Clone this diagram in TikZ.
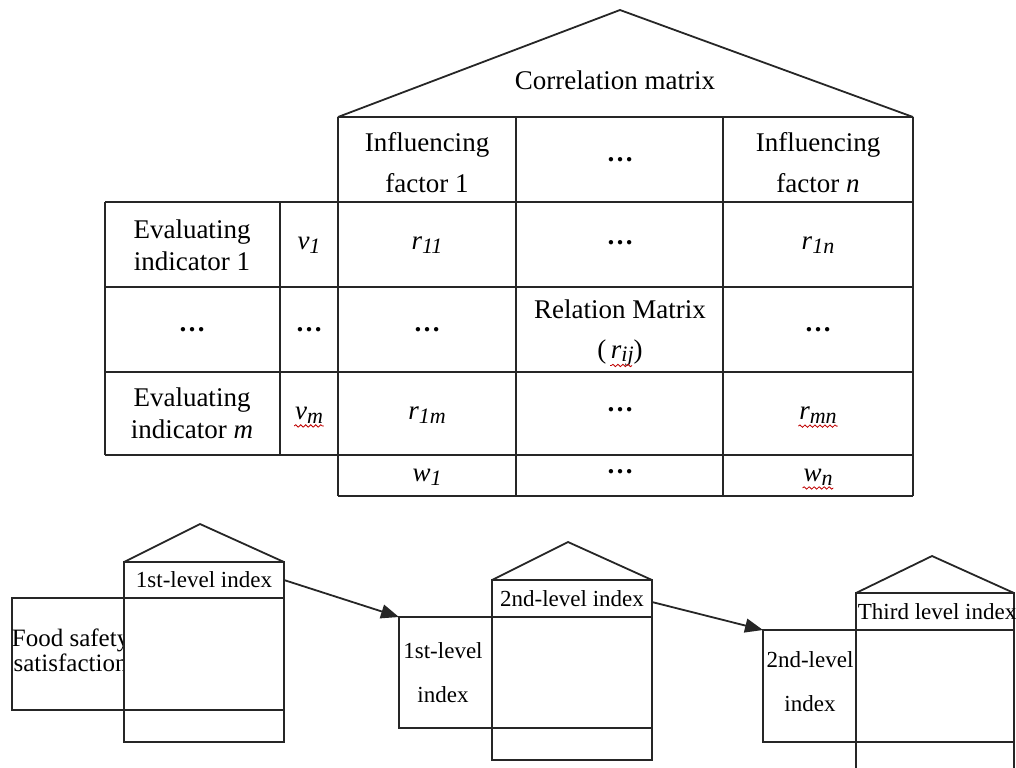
\documentclass[tikz,border=0pt]{standalone}
\usepackage{fontspec}
\setmainfont{Liberation Serif}
\usetikzlibrary{arrows.meta,decorations.pathmorphing}
\newcommand{\isub}[2]{\textit{#1}\raisebox{-0.3ex}{\fontsize{11}{11}\selectfont\textit{#2}}}
\newcommand{\dotsmark}{\textbf{…}}
\begin{document}
\begin{tikzpicture}[x=0.5pt,y=-0.5pt,line width=0.9pt,color=black!85,
	toptext/.style={font=\fontsize{13.5}{15}\selectfont,align=center,inner sep=0pt,text=black},
	lowtext/.style={font=\fontsize{11.5}{12}\selectfont,align=center,inner sep=0pt,text=black},
	foodtext/.style={font=\fontsize{12.5}{7.8}\selectfont,align=center,inner sep=0pt,text=black,anchor=west},
	spell/.style={draw=red!75!black,line width=0.4pt,decorate,decoration={snake,amplitude=0.6pt,segment length=2.5pt}},
	arr/.style={-{Triangle[length=9pt,width=7pt]}}]
				\useasboundingbox (0,0) rectangle (1016,767);
				\draw (338,117) -- (620,10) -- (913,117);
				\draw (338,117) -- (913,117);
				\draw (105,202) -- (913,202);
				\draw (105,287) -- (913,287);
				\draw (105,372) -- (913,372);
				\draw (105,455) -- (913,455);
				\draw (338,496) -- (913,496);
				\draw (105,202) -- (105,455);
				\draw (280,202) -- (280,455);
				\draw (338,117) -- (338,496);
				\draw (516,117) -- (516,496);
				\draw (723,117) -- (723,496);
				\draw (913,117) -- (913,496);
				\node[toptext] (corr) at (615,80) {Correlation matrix};
				\node[toptext] (inf1) at (427,163) {Influencing\\[5.5pt]factor 1};
				\node[toptext] (infd) at (620,160) {\dotsmark};
				\node[toptext] (infn) at (818,163) {Influencing\\[5.5pt]factor \textit{n}};
				\node[toptext] (ev1) at (192,245) {Evaluating\\[1pt]indicator 1};
				\node[toptext] (v1) at (309,245) {\isub{v}{1}};
				\node[toptext] (r11) at (427,245) {\isub{r}{11}};
				\node[toptext] (r1d) at (620,243) {\dotsmark};
				\node[toptext] (r1n) at (818,245) {\isub{r}{1n}};
				\node[toptext] (evd) at (192,330) {\dotsmark};
				\node[toptext] (vd) at (309,330) {\dotsmark};
				\node[toptext] (rd1) at (427,330) {\dotsmark};
				\node[toptext] (rel) at (620,333) {Relation Matrix\\[5pt](\,\isub{r}{ij})};
				\node[toptext] (rdn) at (818,330) {\dotsmark};
				\node[toptext] (evm) at (192,413) {Evaluating\\[1pt]indicator \textit{m}};
				\node[toptext] (vm) at (309,415) {\isub{v}{m}};
				\node[toptext] (r1m) at (427,415) {\isub{r}{1m}};
				\node[toptext] (rmd) at (620,410) {\dotsmark};
				\node[toptext] (rmn) at (818,415) {\isub{r}{mn}};
				\node[toptext] (w1) at (427,477) {\isub{w}{1}};
				\node[toptext] (wd) at (620,472) {\dotsmark};
				\node[toptext] (wn) at (818,477) {\isub{w}{n}};
				\draw[spell] ([yshift=-1pt]vm.south west) -- ([yshift=-1pt]vm.south east);
				\draw[spell] ([yshift=-1pt]rmn.south west) -- ([yshift=-1pt]rmn.south east);
				\draw[spell] ([yshift=-1pt]wn.south west) -- ([yshift=-1pt]wn.south east);
				\draw[spell] ([xshift=6pt,yshift=1pt]rel.south) -- ([xshift=-5pt,yshift=1pt]rel.south);
				\draw (12,598) rectangle (124,710);
				\node[foodtext] (food) at (11,650) {Food safety\\satisfaction};
				\draw[fill=white] (124,562) rectangle (284,742);
				\draw (124,598) -- (284,598);
				\draw (124,710) -- (284,710);
				\draw (124,562) -- (200,524) -- (284,562);
				\node[lowtext] (lev1) at (204,580) {1st-level index};
				\draw (399,617) rectangle (492,728);
				\node[lowtext] (ind1) at (443,673) {1st-level\\[10pt]index};
				\draw[fill=white] (492,580) rectangle (652,760);
				\draw (492,617) -- (652,617);
				\draw (492,728) -- (652,728);
				\draw (492,580) -- (568,542) -- (652,580);
				\node[lowtext] (lev2) at (572,599) {2nd-level index};
				\draw (763,630) rectangle (856,742);
				\node[lowtext] (ind2) at (810,682) {2nd-level\\[10pt]index};
				\draw[fill=white] (856,593) rectangle (1014,790);
				\draw (856,630) -- (1014,630);
				\draw (856,742) -- (1014,742);
				\draw (856,593) -- (932,556) -- (1014,593);
				\node[lowtext,anchor=west] (lev3) at (857,612) {Third level index};
				\coordinate (A1) at (284,580);
				\coordinate (B1) at (399,617);
				\coordinate (A2) at (652,602);
				\coordinate (B2) at (763,630);
				\draw[arr] (A1) -- (B1);
				\draw[arr] (A2) -- (B2);
\end{tikzpicture}
\end{document}
